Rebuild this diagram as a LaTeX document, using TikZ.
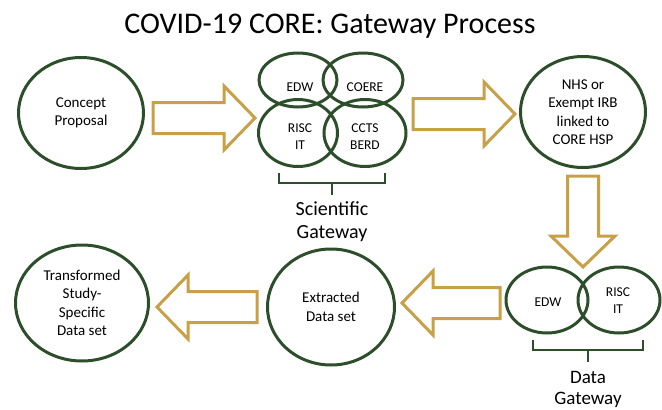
\documentclass[tikz,border=0pt]{standalone}
\usepackage{fontspec}
\setmainfont{Carlito}
\usetikzlibrary{calc, positioning, shapes.geometric}

\definecolor{coregreen}{RGB}{45,78,43}
\definecolor{coregold}{RGB}{200,160,72}

% hollow block arrow from #1 to #2
\newcommand{\fatarrow}[2]{%
	\coordinate (neck) at ($(#2)!31pt!(#1)$);
	\draw[fat] ($(#1)!15.5pt!90:(#2)$) -- ($(neck)!15.5pt!90:(#2)$) -- ($(neck)!32pt!90:(#2)$) -- (#2)
		-- ($(neck)!32pt!-90:(#2)$) -- ($(neck)!15.5pt!-90:(#2)$) -- ($(#1)!15.5pt!-90:(#2)$) -- cycle;}

\begin{document}
\begin{tikzpicture}[
		x=1pt, y=-1pt,
		node distance= {6pt},
		stage/.style= {
				draw=coregreen,
				line width=3pt,
				ellipse,
				inner sep=0pt,
				align=center,
				font=\fontsize{15}{18.5}\selectfont
			},
		petal/.style= {
				draw=coregreen,
				line width=3pt,
				ellipse,
				inner sep=0pt
			},
		petaltext/.style= {
				align=center,
				inner sep=0pt,
				font=\fontsize{13.5}{17}\selectfont
			},
		gwtext/.style= {
				align=center,
				inner sep=0pt,
				font=\fontsize{20}{23}\selectfont
			},
		fat/.style= {
				draw=coregold,
				line width=3pt,
				fill=white
			},
		brace/.style= {
				draw=coregreen,
				line width=1.8pt
			}
	]
	\useasboundingbox (0,0) rectangle (662,410);

	\node[font=\fontsize{30}{34}\selectfont] (title) at (330,26) {COVID-19 CORE: Gateway Process};

	% process stages
	\node[stage, minimum width=125pt, minimum height=111pt] (concept) at (81,113) {Concept\\Proposal};
	\node[stage, minimum width=125pt, minimum height=111pt] (nhs) at (583,112) {NHS or\\Exempt IRB\\linked to\\CORE HSP};
	\node[stage, minimum width=127pt, minimum height=116pt] (extracted) at (331,307) {Extracted\\Data set};
	\node[stage, minimum width=133pt, minimum height=116pt] (transformed) at (82,303) {Transformed\\Study-\\Specific\\Data set};

	% scientific gateway
	\node[petal, minimum width=78pt, minimum height=54pt] (edw) at (298,80) {};
	\node[petal, minimum width=80pt, minimum height=54pt] (coere) at (363,80) {};
	\node[petal, minimum width=79pt, minimum height=67pt] (risc) at (298,133) {};
	\node[petal, minimum width=82pt, minimum height=67pt] (ccts) at (365,133) {};
	\node[petaltext] (edwtext) at (300,87) {EDW};
	\node[petaltext] (coeretext) at (365,87) {COERE};
	\node[petaltext] (risctext) at (300,136.5) {RISC\\IT};
	\node[petaltext] (cctstext) at (365,136.5) {CCTS\\BERD};

	\coordinate (sbl) at (279,173);
	\coordinate (sbr) at (385,173);
	\coordinate (sbm) at (332,183);
	\coordinate (sbt) at (332,195);
	\draw[brace] (sbl) |- (sbm) -| (sbr);
	\draw[brace] (sbm) -- (sbt);
	\node[gwtext, below=of sbt] (scilabel) {Scientific\\Gateway};

	% data gateway
	\node[petal, minimum width=82pt, minimum height=66pt] (dedw) at (547,300) {};
	\node[petal, minimum width=82pt, minimum height=66pt] (drisc) at (619,300) {};
	\node[petaltext] (dedwtext) at (548,302) {EDW};
	\node[petaltext] (drisctext) at (618,300.5) {RISC\\IT};

	\coordinate (dbl) at (533,340);
	\coordinate (dbr) at (643,340);
	\coordinate (dbm) at (588,350);
	\coordinate (dbt) at (588,362);
	\draw[brace] (dbl) |- (dbm) -| (dbr);
	\draw[brace] (dbm) -- (dbt);
	\node[gwtext, font=\fontsize{19}{21}\selectfont, below=9pt of dbt] (datalabel) {Data\\Gateway};

	% block arrows
	\coordinate (a1s) at (153,118);
	\coordinate (a1e) at (255,118);
	\coordinate (a2s) at (413,114);
	\coordinate (a2e) at (515,114);
	\coordinate (a3s) at (583,176);
	\coordinate (a3e) at (583,267);
	\coordinate (a4s) at (500,303);
	\coordinate (a4e) at (402,303);
	\coordinate (a5s) at (257,307);
	\coordinate (a5e) at (157,307);
	\fatarrow{a1s}{a1e}
	\fatarrow{a2s}{a2e}
	\fatarrow{a3s}{a3e}
	\fatarrow{a4s}{a4e}
	\fatarrow{a5s}{a5e}
\end{tikzpicture}
\end{document}
